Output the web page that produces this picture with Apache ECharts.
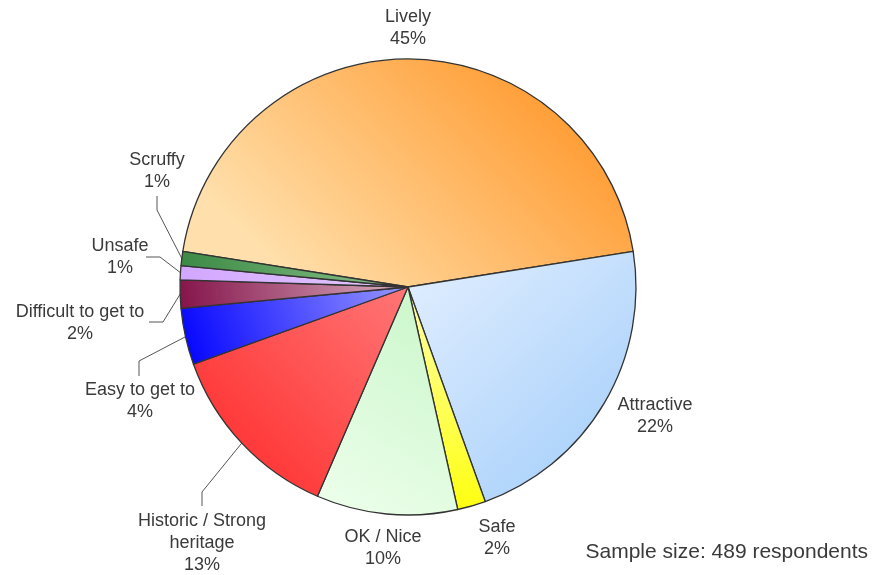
<!DOCTYPE html>
<html>
<head>
<meta charset="utf-8">
<script src="https://cdn.jsdelivr.net/npm/echarts@6/dist/echarts.min.js"></script>
<style>
  html, body { margin: 0; padding: 0; background: #ffffff; }
  #chart { width: 874px; height: 575px; }
</style>
</head>
<body>
<div id="chart"></div>
<script>
// Perceptions of the area: share of respondents (%)
const categories = [
  'Lively',
  'Attractive',
  'Safe',
  'OK / Nice',
  'Historic / Strong\nheritage',
  'Easy to get to',
  'Difficult to get to',
  'Unsafe',
  'Scruffy'
];
const shares = [45, 22, 2, 10, 13, 4, 2, 1, 1];
const sampleNote = 'Sample size: 489 respondents';

// Per-slice gradient: [x, y, x2, y2, fromColour, toColour]
const sliceFills = [
  [0.25, 1, 0.75, 0, '#ffe0ac', '#ff9c33'],
  [0, 0, 1, 1, '#e3efff', '#a0ccfa'],
  [0.5, 0, 0.5, 1, '#ffffaa', '#ffff10'],
  [0, 1, 1, 0, '#eeffec', '#c8f6c8'],
  [0, 1, 1, 0, '#ff2626', '#ff7676'],
  [0, 1, 1, 0, '#0000ff', '#9898ff'],
  [0, 1, 1, 0, '#84134a', '#dcb2c2'],
  [0, 1, 1, 0, '#d2a6ff', '#e4caff'],
  [0, 1, 1, 0, '#3a8843', '#8ec68e']
];

// Label placement (centre of text block) and leader-line bend/end points
const labelSpots = [
  { x: 408, y: 28 },
  { x: 655, y: 416 },
  { x: 497, y: 538 },
  { x: 383, y: 548 },
  { x: 202, y: 543, bend: [202, 492], end: [202, 506] },
  { x: 140, y: 401, bend: [139, 361], end: [139, 376] },
  { x: 80,  y: 323, bend: [163, 322], end: [149, 322] },
  { x: 120, y: 257, bend: [160, 257], end: [146, 257] },
  { x: 157, y: 171, bend: [157, 210], end: [157, 196] }
];

const chart = echarts.init(document.getElementById('chart'), null, { renderer: 'canvas' });

const seriesData = categories.map((name, i) => {
  const f = sliceFills[i];
  return {
    name: name,
    value: shares[i],
    itemStyle: {
      color: new echarts.graphic.LinearGradient(f[0], f[1], f[2], f[3], [
        { offset: 0, color: f[4] },
        { offset: 1, color: f[5] }
      ])
    },
    labelLine: { show: !!labelSpots[i].bend }
  };
});

chart.setOption({
  backgroundColor: '#ffffff',
  animation: false,
  series: [{
    type: 'pie',
    center: [408, 287],
    radius: 228,
    startAngle: 171,
    clockwise: true,
    avoidLabelOverlap: false,
    data: seriesData,
    itemStyle: { borderColor: '#333333', borderWidth: 1.3 },
    label: {
      show: true,
      position: 'outside',
      formatter: '{b}\n{c}%',
      fontFamily: 'Liberation Sans, Arial, sans-serif',
      fontSize: 18,
      lineHeight: 22,
      color: '#3a3a3a',
      align: 'center'
    },
    labelLine: {
      show: true,
      length: 20,
      length2: 12,
      lineStyle: { color: '#555555', width: 1 }
    },
    emphasis: { disabled: true },
    labelLayout: function (params) {
      const s = labelSpots[params.dataIndex];
      const out = { x: s.x, y: s.y, align: 'center', verticalAlign: 'middle' };
      if (s.bend && params.labelLinePoints) {
        out.labelLinePoints = [params.labelLinePoints[0], s.bend, s.end];
      }
      return out;
    }
  }],
  graphic: [{
    type: 'text',
    right: 6,
    top: 542,
    style: {
      text: sampleNote,
      fontFamily: 'Liberation Sans, Arial, sans-serif',
      fontSize: 21,
      fill: '#3a3a3a'
    }
  }]
});
</script>
</body>
</html>
